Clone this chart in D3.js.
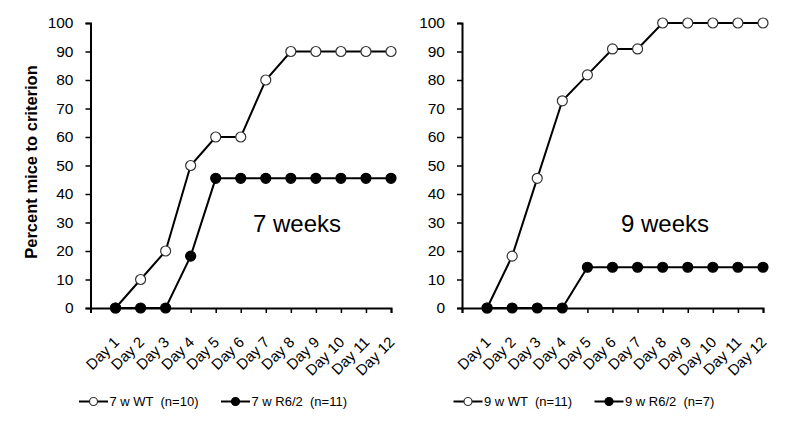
<!DOCTYPE html>
<html>
<head>
<meta charset="utf-8">
<script src="https://cdn.jsdelivr.net/npm/d3@7"></script>
<style>
  body { margin: 0; background: #fff; }
  svg { display: block; font-family: "Liberation Sans", Arial, sans-serif; }
</style>
</head>
<body>
<svg id="chart" width="795" height="424"></svg>
<script>
const days = ["Day 1","Day 2","Day 3","Day 4","Day 5","Day 6","Day 7","Day 8","Day 9","Day 10","Day 11","Day 12"];
const yTicks = [0,10,20,30,40,50,60,70,80,90,100];

const wt7   = [0, 10, 20, 50, 60, 60, 80, 90, 90, 90, 90, 90];
const r62_7 = [0, 0, 0, 18.2, 45.5, 45.5, 45.5, 45.5, 45.5, 45.5, 45.5, 45.5];
const wt9   = [0, 18.2, 45.5, 72.7, 81.8, 90.9, 90.9, 100, 100, 100, 100, 100];
const r62_9 = [0, 0, 0, 0, 14.3, 14.3, 14.3, 14.3, 14.3, 14.3, 14.3, 14.3];

const panels = [
  { x0: 90.5, x1: 391, title: "7 weeks", titleX: 253, showYTitle: true,
    series: [
      { name: "7 w WT  (n=10)", values: wt7, filled: false },
      { name: "7 w R6/2  (n=11)", values: r62_7, filled: true }
    ],
    legend: [ { lx: 79, cx: 93.5 }, { lx: 221, cx: 235.5 } ]
  },
  { x0: 462, x1: 763, title: "9 weeks", titleX: 621, showYTitle: false,
    series: [
      { name: "9 w WT  (n=11)", values: wt9, filled: false },
      { name: "9 w R6/2  (n=7)", values: r62_9, filled: true }
    ],
    legend: [ { lx: 453.5, cx: 468 }, { lx: 594.5, cx: 609 } ]
  }
];

const svg = d3.select("#chart");
const y = d3.scaleLinear().domain([0, 100]).range([308, 23]);

panels.forEach(p => {
  const x = d3.scaleLinear().domain([0, days.length]).range([p.x0, p.x1]);
  const g = svg.append("g");

  // Y axis
  const yAxis = d3.axisLeft(y).tickValues(yTicks).tickSize(5).tickPadding(12);
  const ya = g.append("g").attr("transform", `translate(${p.x0},0)`).call(yAxis);
  ya.select(".domain").attr("stroke", "#000").attr("stroke-width", 2);
  ya.selectAll(".tick line").attr("stroke", "#000").attr("stroke-width", 1.5);
  ya.selectAll(".tick text").attr("font-size", 15.5).attr("fill", "#000")
    .attr("font-family", "Liberation Sans, Arial, sans-serif");

  // X axis
  const xAxis = d3.axisBottom(x).tickValues(d3.range(0, days.length + 1)).tickSize(5)
    .tickFormat(d => d === 0 ? "" : days[d - 1]);
  const xa = g.append("g").attr("transform", `translate(0,${y(0)})`).call(xAxis);
  xa.select(".domain").attr("stroke", "#000").attr("stroke-width", 2);
  xa.selectAll(".tick line").attr("stroke", "#000").attr("stroke-width", 1.5);
  xa.selectAll(".tick text")
    .attr("font-size", 15).attr("fill", "#000")
    .attr("font-family", "Liberation Sans, Arial, sans-serif")
    .attr("text-anchor", "end")
    .attr("dy", null).attr("y", null)
    .attr("transform", "translate(4,35) rotate(-45)");

  // Lines and markers
  const line = d3.line().x((d, i) => x(i + 1)).y(d => y(d));
  p.series.forEach(s => {
    g.append("path").datum(s.values)
      .attr("d", line).attr("fill", "none").attr("stroke", "#000").attr("stroke-width", 2);
  });
  p.series.forEach(s => {
    g.selectAll(null).data(s.values).enter().append("circle")
      .attr("cx", (d, i) => x(i + 1)).attr("cy", d => y(d)).attr("r", 5)
      .attr("fill", s.filled ? "#000" : "#fff")
      .attr("stroke", s.filled ? "#000" : "#333").attr("stroke-width", 1.2);
  });

  // Panel title
  g.append("text").attr("x", p.titleX).attr("y", 232).attr("font-size", 24)
    .attr("fill", "#000").text(p.title);

  // Legend
  p.series.forEach((s, i) => {
    const L = p.legend[i];
    const ly = 401.5;
    const lx2 = L.cx + (L.cx - L.lx);
    g.append("line").attr("x1", L.lx).attr("x2", lx2)
      .attr("y1", ly).attr("y2", ly).attr("stroke", "#000").attr("stroke-width", 2);
    g.append("circle").attr("cx", L.cx).attr("cy", ly).attr("r", 4)
      .attr("fill", s.filled ? "#000" : "#fff").attr("stroke", s.filled ? "#000" : "#333").attr("stroke-width", 1.2);
    g.append("text").attr("x", lx2 + 1.5).attr("y", ly + 4.5)
      .attr("font-size", 13).attr("fill", "#000").style("white-space", "pre")
      .text(s.name);
  });

  if (p.showYTitle) {
    g.append("text")
      .attr("transform", `translate(37,162) rotate(-90)`)
      .attr("text-anchor", "middle")
      .attr("font-size", 16.5).attr("font-weight", "bold").attr("fill", "#000")
      .text("Percent mice to criterion");
  }
});
</script>
</body>
</html>
